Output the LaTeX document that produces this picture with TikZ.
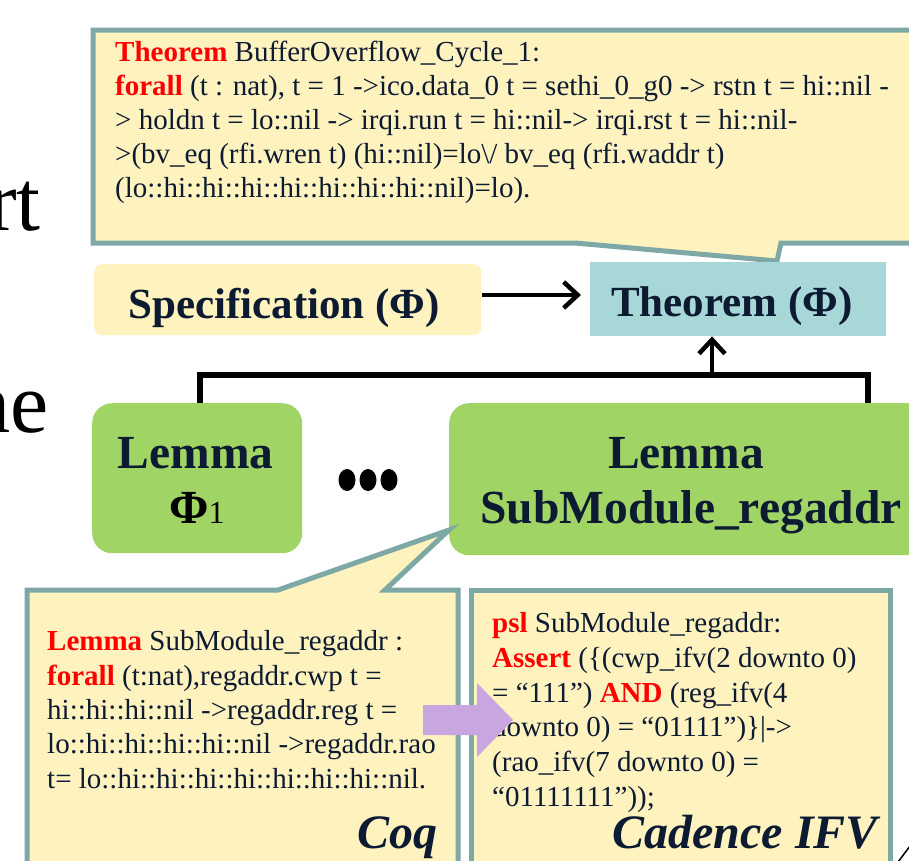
\documentclass[tikz,border=0pt]{standalone}
\usepackage{fontspec}
\setmainfont{Liberation Serif}
\usetikzlibrary{arrows.meta,calc}
\definecolor{calfill}{RGB}{254,242,190}
\definecolor{calborder}{RGB}{126,168,166}
\definecolor{lemgreen}{RGB}{160,212,100}
\definecolor{thmteal}{RGB}{168,215,216}
\definecolor{arrowpurple}{RGB}{200,166,224}
\definecolor{ink}{RGB}{12,26,50}
\definecolor{kwred}{RGB}{255,0,0}
\definecolor{titlered}{RGB}{192,0,0}
\newcommand{\kw}[1]{{\color{kwred}\bfseries #1}}
\begin{document}
\begin{tikzpicture}[x=1pt,y=-1pt,
  codetxt/.style={anchor=base west,inner sep=0pt,text=ink,font=\fontsize{29}{34}\selectfont},
  bigtxt/.style={anchor=base,inner sep=0pt,text=ink,font=\fontsize{47.5}{55}\selectfont\bfseries},
  midtxt/.style={anchor=base,inner sep=0pt,text=ink,font=\fontsize{43}{50}\selectfont\bfseries},
  tooltxt/.style={anchor=base east,inner sep=0pt,text=ink,font=\fontsize{48}{55}\selectfont\bfseries\itshape},
  slidetxt/.style={inner sep=0pt,font=\fontsize{86}{90}\selectfont},
  callout/.style={fill=calfill,draw=calborder,line width=5pt,line join=miter},
  plainbox/.style={anchor=north west,inner sep=0pt,draw=none},
  link/.style={draw=black,line width=5.5pt},
  tipped/.style={line width=4.5pt,-{Straight Barb[length=14pt,width=26pt]}}
]
\useasboundingbox (0,0) rectangle (909,860);
\fill[white] (0,0) rectangle (909,860);

% fragments of the slide behind
\node[slidetxt,anchor=base east,text=black] (fragrt) at (41,230) {rt};
\node[slidetxt,anchor=base east,text=black] (fraghe) at (49,432) {he};
\node[slidetxt,anchor=base west,text=titlered] (fragg) at (647,-33) {g};
\draw[black,line width=1.5pt] (898,862) -- (910,846);

% top callout
\draw[callout] (93,30) -- (940,30) -- (940,243) -- (781,243) -- (777,261) -- (575,243) -- (93,243) -- cycle;
\node[codetxt] (c1) at (115,61) {\kw{Theorem} BufferOverflow\_Cycle\_1:};
\node[codetxt] (c2) at (115,95) {\kw{forall} (t : nat), t = 1 ->ico.data\_0 t = sethi\_0\_g0 -> rstn t = hi::nil -};
\node[codetxt] (c3) at (115,129) {> holdn t = lo::nil -> irqi.run t = hi::nil-> irqi.rst t = hi::nil-};
\node[codetxt] (c4) at (115,163) {>(bv\_eq (rfi.wren t) (hi::nil)=lo\textbackslash/ bv\_eq (rfi.waddr t)};
\node[codetxt] (c5) at (115,197) {(lo::hi::hi::hi::hi::hi::hi::hi::nil)=lo).};

% specification and theorem
\node[plainbox,fill=calfill,rounded corners=8pt,minimum width=387pt,minimum height=71pt] (spec) at (94,264) {};
\node[midtxt] (spect) at (284,318) {Specification (\textbf{Φ})};
\node[plainbox,fill=thmteal,minimum width=296pt,minimum height=74pt] (thm) at (590,262) {};
\node[midtxt] (thmt) at (732,316) {Theorem (Φ)};
\draw[tipped,shorten >=9pt,shorten <=1pt] (spec.east |- 0,295) -- (thm.west |- 0,295);

% lemmas
\node[plainbox,fill=lemgreen,rounded corners=20pt,minimum width=210pt,minimum height=150pt] (lem1) at (92,403) {};
\node[bigtxt] (lem1a) at (195.5,468) {Lemma};
\node[bigtxt,text=black] (lem1b) at (197,523) {Φ{\mdseries\fontsize{32}{36}\selectfont 1}};
\node[plainbox,fill=lemgreen,rounded corners=20pt,minimum width=480pt,minimum height=152pt] (lem2) at (449,403) {};
\node[bigtxt] (lem2a) at (686,468) {Lemma};
\node[bigtxt] (lem2b) at (691,523) {SubModule\_regaddr};

% dots
\fill[black] (347,480) ellipse (8.5pt and 11pt);
\fill[black] (368,480) ellipse (8.5pt and 11pt);
\fill[black] (389,480) ellipse (8.5pt and 11pt);

% tree connector
\coordinate (join) at (712,375);
\coordinate (lem2top) at (868,403);
\draw[link,line join=miter] (lem1.north -| 200,0) |- (lem2top |- join) -- (lem2top);
\draw[tipped] (join) -- (join |- thm.south);

% Coq callout
\draw[callout] (27,590) -- (278,590) -- (449,530) -- (385,590) -- (458,590) -- (458,880) -- (27,880) -- cycle;
\node[codetxt] (q1) at (47,650) {\kw{Lemma} SubModule\_regaddr :};
\node[codetxt] (q2) at (47,685) {\kw{forall} (t:nat),regaddr.cwp t =};
\node[codetxt] (q3) at (47,719) {hi::hi::hi::nil ->regaddr.reg t =};
\node[codetxt] (q4) at (47,753) {lo::hi::hi::hi::hi::nil ->regaddr.rao};
\node[codetxt] (q5) at (47,788) {t= lo::hi::hi::hi::hi::hi::hi::hi::nil.};
\node[tooltxt] (coq) at (438,848) {Coq};

% IFV box
\draw[callout] (471,590) rectangle (890,880);
\node[codetxt] (f1) at (492,632) {\kw{psl} SubModule\_regaddr:};
\node[codetxt] (f2) at (492,667) {\kw{Assert} (\{(cwp\_ifv(2 downto 0)};
\node[codetxt] (f3) at (492,702) {= “111”) \kw{AND} (reg\_ifv(4};
\node[codetxt] (f4) at (492,736) {downto 0) = “01111”)\}|->};
\node[codetxt] (f5) at (492,771) {(rao\_ifv(7 downto 0) =};
\node[codetxt] (f6) at (492,806) {“01111111”));};
\node[tooltxt] (ifv) at (878,848) {Cadence IFV};

% purple block arrow
\fill[arrowpurple] (423,705) -- (477,705) -- (477,683) -- (513,720) -- (477,757) -- (477,735) -- (423,735) -- cycle;
\end{tikzpicture}
\end{document}
